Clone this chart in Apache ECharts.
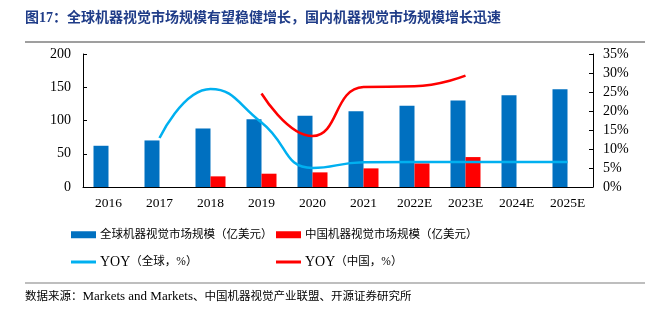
<!DOCTYPE html>
<html><head><meta charset="utf-8">
<script src="https://cdn.jsdelivr.net/npm/echarts@6/dist/echarts.min.js"></script>
<style>html,body{margin:0;padding:0;background:#fff}#c{width:654px;height:323px}</style>
</head><body><div id="c"></div>
<script>
const categories = ['2016','2017','2018','2019','2020','2021','2022E','2023E','2024E','2025E'];
const globalSize = [62, 70, 88, 102, 107, 114, 122, 130, 138, 147];
const chinaSize = [null, null, 16, 20, 22, 28, 35.5, 45, null, null];
const globalYoy = [null, 12.9, 25.8, 17, 5, 6.5, 6.6, 6.6, 6.6, 6.6];
const chinaYoy = [null, null, null, 24.6, 13.4, 26.3, 26.5, 29.3, null, null];
const leftTicks = {min: 0, max: 200, interval: 50};
const rightTicks = {min: 0, max: 35, interval: 5};

const FONT = '"Liberation Serif","Noto Sans CJK SC",serif';
const chart = echarts.init(document.getElementById('c'));
const legendText = {fontFamily: FONT, fontSize: 11.5, color: '#000', padding: [0, 0, 0, -1],
  rich: {y: {fontFamily: FONT, fontSize: 14, color: '#000'}, c: {fontFamily: FONT, fontSize: 11.5, color: '#000'}}};
const legendBase = {padding: 0, itemWidth: 25, textStyle: legendText,
  formatter: function (n) { return n.indexOf('YOY') === 0 ? '{y|YOY}{c|' + n.slice(3) + '}' : n; }};
chart.setOption({
  animation: false,
  textStyle: {fontFamily: FONT},
  grid: {left: 83, right: 61, top: 54, bottom: 136},
  graphic: [
    {type: 'text', left: 25, top: 11, style: {text: '图17：全球机器视觉市场规模有望稳健增长，国内机器视觉市场规模增长迅速', font: 'bold 14px "Liberation Serif","Noto Sans CJK SC",serif', fill: '#1F3C88'}},
    {type: 'line', shape: {x1: 25, y1: 42, x2: 645, y2: 42}, style: {stroke: '#7f7f7f', lineWidth: 1.5}},
    {type: 'line', shape: {x1: 25, y1: 283, x2: 645, y2: 283}, style: {stroke: '#7f7f7f', lineWidth: 1.2}},
    {type: 'text', left: 25, top: 290, style: {text: '{c|数据来源：}{m|Markets and Markets}{c|、中国机器视觉产业联盟、开源证券研究所}',
      rich: {c: {fontFamily: FONT, fontSize: 11.5, fill: '#000'}, m: {fontFamily: FONT, fontSize: 13, fill: '#000'}}}}
  ],
  legend: [
    Object.assign({left: 71, top: 229, itemHeight: 7, data: [{name: '全球机器视觉市场规模（亿美元）', icon: 'rect'}]}, legendBase),
    Object.assign({left: 276, top: 229, itemHeight: 7, data: [{name: '中国机器视觉市场规模（亿美元）', icon: 'rect'}]}, legendBase),
    Object.assign({left: 71, top: 255, itemHeight: 3, data: [{name: 'YOY（全球，%）', icon: 'rect'}]}, legendBase),
    Object.assign({left: 276, top: 255, itemHeight: 3, data: [{name: 'YOY（中国，%）', icon: 'rect'}]}, legendBase)
  ],
  xAxis: {
    type: 'category', data: categories,
    axisLine: {lineStyle: {color: '#000', width: 1}},
    axisTick: {inside: true, length: 4, lineStyle: {color: '#000'}},
    axisLabel: {color: '#000', fontSize: 13.5, fontFamily: FONT, margin: 10}
  },
  yAxis: [
    {type: 'value', min: leftTicks.min, max: leftTicks.max, interval: leftTicks.interval,
     axisLine: {show: true, lineStyle: {color: '#000'}},
     axisTick: {show: true, inside: true, length: 4, lineStyle: {color: '#000'}},
     splitLine: {show: false},
     axisLabel: {color: '#000', fontSize: 14, fontFamily: FONT, margin: 12}},
    {type: 'value', min: rightTicks.min, max: rightTicks.max, interval: rightTicks.interval, position: 'right',
     axisLine: {show: true, lineStyle: {color: '#000'}},
     axisTick: {show: true, inside: true, length: 4, lineStyle: {color: '#000'}},
     splitLine: {show: false},
     axisLabel: {color: '#000', fontSize: 14, fontFamily: FONT, margin: 10, formatter: '{value}%'}}
  ],
  series: [
    {name: '全球机器视觉市场规模（亿美元）', type: 'bar', data: globalSize, barWidth: 15, barGap: '0%', itemStyle: {color: '#0070C0'}},
    {name: '中国机器视觉市场规模（亿美元）', type: 'bar', data: chinaSize, barWidth: 15, itemStyle: {color: '#FF0000'}},
    {name: 'YOY（全球，%）', type: 'line', yAxisIndex: 1, data: globalYoy, smooth: 0.5, showSymbol: false, symbol: 'none', lineStyle: {color: '#00B0F0', width: 2.5}, itemStyle: {color: '#00B0F0'}},
    {name: 'YOY（中国，%）', type: 'line', yAxisIndex: 1, data: chinaYoy, smooth: 0.5, showSymbol: false, symbol: 'none', lineStyle: {color: '#FF0000', width: 2.5}, itemStyle: {color: '#FF0000'}}
  ]
});
</script></body></html>
